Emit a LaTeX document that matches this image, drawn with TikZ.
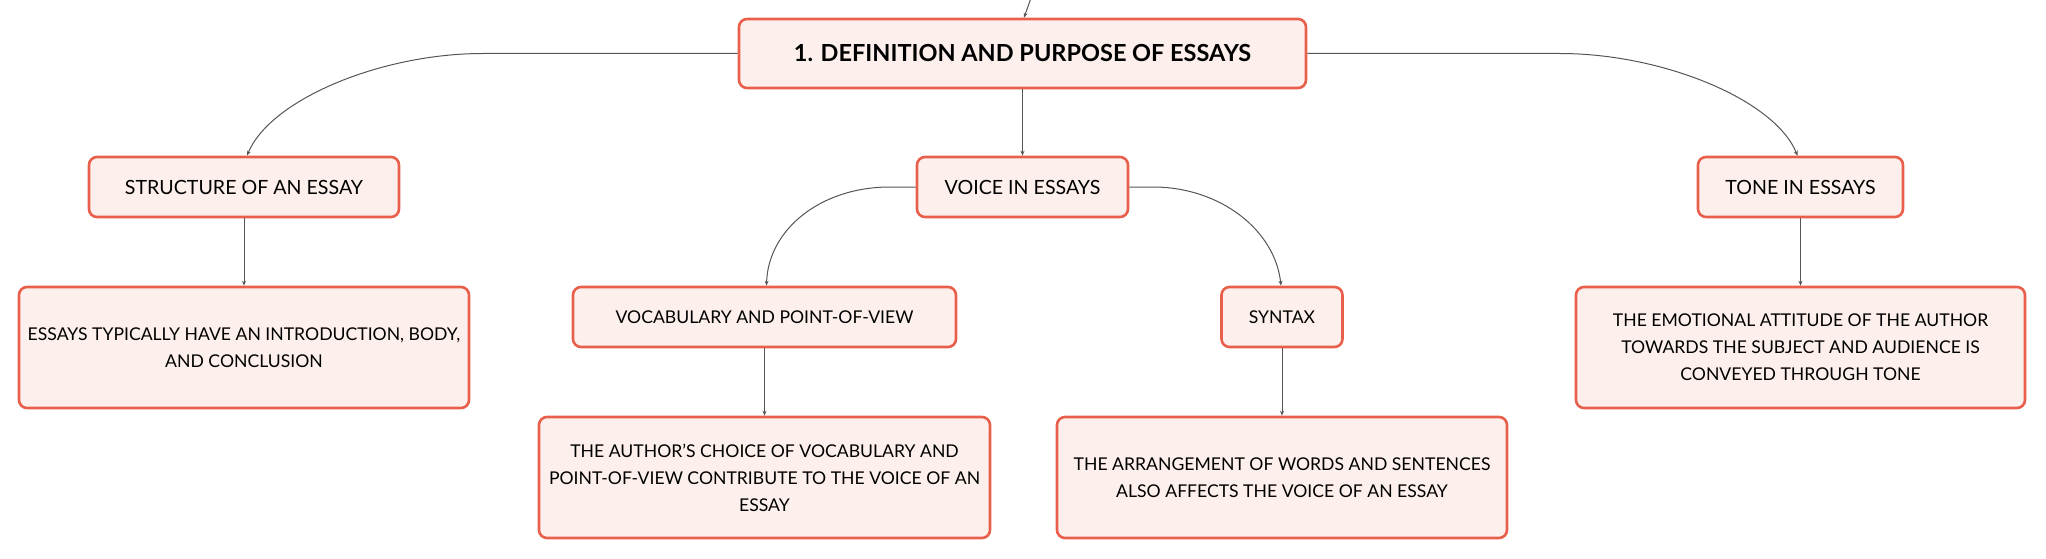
\documentclass[tikz,border=0pt]{standalone}
\usepackage{fontspec}
\setmainfont{Lato}
\usetikzlibrary{arrows.meta,calc}
\definecolor{boxline}{HTML}{E8604C}
\definecolor{boxfill}{HTML}{FDF0EC}
\definecolor{conncol}{HTML}{555555}
\tikzset{
  x=1pt, y=-1pt,
  box/.style={draw=boxline, fill=boxfill, line width=2.6pt, rounded corners=8pt,
    inner xsep=0pt, inner ysep=0pt, align=center, text=black},
  lvlone/.style={box, font=\fontsize{23.5}{28}\selectfont\bfseries},
  lvltwo/.style={box, font=\fontsize{19.6}{27}\selectfont},
  lvlthree/.style={box, font=\fontsize{17.6}{27}\selectfont},
  conn/.style={draw=conncol, line width=1pt, -{Stealth[length=5pt,width=4pt]}},
}
\begin{document}
\begin{tikzpicture}
\useasboundingbox (0,0) rectangle (2046,559);
% nodes
\node[lvlone, minimum width=567pt, minimum height=69pt] (main) at (1022.5,53.5) {1. DEFINITION AND PURPOSE OF ESSAYS};
\node[lvltwo, minimum width=310pt, minimum height=60pt] (struct) at (244,187) {STRUCTURE OF AN ESSAY};
\node[lvltwo, minimum width=211pt, minimum height=60pt] (voice) at (1022.5,187) {VOICE IN ESSAYS};
\node[lvltwo, minimum width=205pt, minimum height=60pt] (tone) at (1800.5,187) {TONE IN ESSAYS};
\node[lvlthree, minimum width=450pt, minimum height=121pt] (essays) at (244,347.5) {ESSAYS TYPICALLY HAVE AN INTRODUCTION, BODY,\\AND CONCLUSION};
\node[lvlthree, minimum width=383pt, minimum height=60pt] (vocab) at (764.5,317) {VOCABULARY AND POINT-OF-VIEW};
\node[lvlthree, minimum width=121pt, minimum height=60pt] (syntax) at (1282,317) {SYNTAX};
\node[lvlthree, minimum width=449pt, minimum height=121pt] (tonedesc) at (1800.5,347.5) {THE EMOTIONAL ATTITUDE OF THE AUTHOR\\TOWARDS THE SUBJECT AND AUDIENCE IS\\CONVEYED THROUGH TONE};
\node[lvlthree, minimum width=451pt, minimum height=121pt] (author) at (764.5,477.5) {THE AUTHOR’S CHOICE OF VOCABULARY AND\\POINT-OF-VIEW CONTRIBUTE TO THE VOICE OF AN\\ESSAY};
\node[lvlthree, minimum width=450pt, minimum height=121pt] (arrange) at (1282,477.5) {THE ARRANGEMENT OF WORDS AND SENTENCES\\ALSO AFFECTS THE VOICE OF AN ESSAY};
% connectors
\coordinate (topin) at (1031,-2);
\draw[conn] (topin) -- ([xshift=1.5pt]main.north);
\draw[conn] (main.south) -- (voice.north);
\draw[conn] (main.west) -- (483,53.5) .. controls (380,53.5) and (270,100) .. ([xshift=3pt]struct.north);
\draw[conn] (main.east) -- (1560,53.5) .. controls (1663,53.5) and (1775,100) .. ([xshift=-3pt]tone.north);
\draw[conn] (voice.west) -- (890,187) .. controls (820,187) and (768,230) .. ([xshift=2pt]vocab.north);
\draw[conn] (voice.east) -- (1153,187) .. controls (1220,187) and (1275,230) .. ([xshift=-1pt]syntax.north);
\draw[conn] (struct.south) -- (struct.south |- essays.north);
\draw[conn] (tone.south) -- (tone.south |- tonedesc.north);
\draw[conn] (vocab.south) -- (vocab.south |- author.north);
\draw[conn] (syntax.south) -- (syntax.south |- arrange.north);
\end{tikzpicture}
\end{document}
